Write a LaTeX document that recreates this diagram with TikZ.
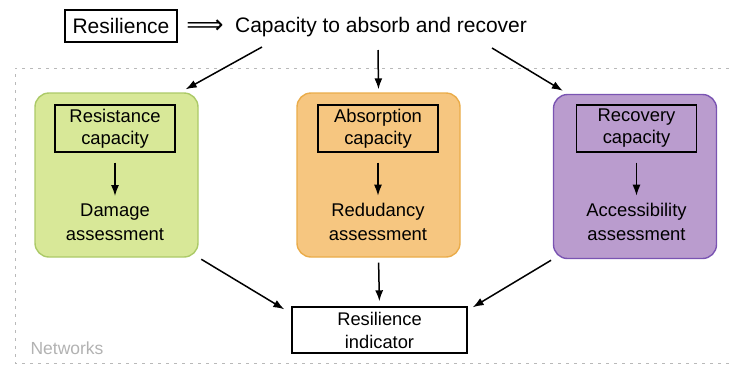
\documentclass[tikz,border=0pt]{standalone}
\usepackage{amsmath}
\usepackage{fontspec}
\setmainfont{Liberation Sans}
\newfontfamily\arrowfont{DejaVu Sans}
\usepackage{xcolor}
\usepackage{tikz}
\usetikzlibrary{arrows.meta}

\definecolor{resgreen}{RGB}{216,232,152}
\definecolor{resgreenline}{RGB}{172,202,104}
\definecolor{absorange}{RGB}{246,198,128}
\definecolor{absorangeline}{RGB}{234,172,74}
\definecolor{recpurple}{RGB}{186,156,206}
\definecolor{recpurpleline}{RGB}{122,84,178}

\tikzset{
    panel/.style={draw, line width=1.4pt, rounded corners=14pt,
        minimum width=163pt, minimum height=164pt},
    capbox/.style={draw=black, line width=1.4pt, align=center, inner sep=0pt,
        minimum width=120pt, minimum height=47pt,
        font=\fontsize{18.4}{22}\selectfont},
    lowtext/.style={align=center, font=\fontsize{18.4}{24}\selectfont},
    arr/.style={-{Latex[length=11pt,width=8pt]}, line width=1.5pt}
}

\begin{document}
\begin{tikzpicture}[x=1pt, y=-1pt]
        \useasboundingbox (0, 0) rectangle (729, 365);

        % network frame
        \draw[gray!55, line width=1pt, dash pattern=on 3pt off 5pt]
            (729, 68) -- (15, 68) -- (15, 363) -- (729, 363);
        \node[gray!60, anchor=west, font=\fontsize{17.5}{20}\selectfont] (net) at (27, 348) {Networks};

        % headline
        \node[draw, line width=1.4pt, minimum width=112pt, minimum height=32pt,
            inner sep=0pt, font=\fontsize{21}{24}\selectfont] (res) at (121, 26) {Resilience};
        \node[inner sep=0pt, font=\arrowfont\fontsize{26}{28}\selectfont] (impl) at (205, 27) {⟹};
        \node[font=\fontsize{21}{24}\selectfont] (cap) at (381, 27) {Capacity to absorb and recover};

        % three panels
        \node[panel, fill=resgreen, draw=resgreenline] (green) at (116.5, 175) {};
        \node[panel, fill=absorange, draw=absorangeline] (orange) at (378.5, 175) {};
        \node[panel, fill=recpurple, draw=recpurpleline] (purple) at (635, 176.5) {};

        \node[capbox] (resist) at (115, 128.5) {Resistance\\capacity};
        \node[capbox] (absorb) at (378, 128.5) {Absorption\\capacity};
        \node[capbox] (recov) at (636.5, 128.5) {Recovery\\capacity};

        \node[lowtext] (damage) at (115, 222) {Damage\\assessment};
        \node[lowtext] (redund) at (378, 222) {Redudancy\\assessment};
        \node[lowtext] (access) at (636.5, 222) {Accessibility\\assessment};

        \draw[arr, shorten <=10pt, shorten >=4pt] (resist) -- (damage);
        \draw[arr, shorten <=10pt, shorten >=4pt] (absorb) -- (redund);
        \draw[arr, shorten <=10pt, shorten >=4pt] (recov) -- (access);

        % indicator
        \node[draw, line width=1.4pt, minimum width=175pt, minimum height=46pt,
            align=center, inner sep=0pt, font=\fontsize{18.3}{23}\selectfont] (ind) at (379.5, 330)
            {Resilience\\indicator};

        % arrows from the headline
        \coordinate (c1) at (262, 47);
        \coordinate (c2) at (378, 50);
        \coordinate (c3) at (492, 48);
        \draw[arr] (c1) -- ([xshift=-13pt, yshift=3pt]green.north east);
        \draw[arr] (c2) -- ([yshift=3pt]orange.north);
        \draw[arr] (c3) -- ([xshift=10pt, yshift=3pt]purple.north west);

        % arrows to the indicator
        \draw[arr, shorten <=3pt] (green.south east) -- ([xshift=-7pt, yshift=-3pt]ind.north west);
        \draw[arr, shorten <=5pt, shorten >=5pt] (orange.south) -- (ind.north);
        \draw[arr, shorten <=2pt] (purple.south west) -- ([xshift=5pt, yshift=-1pt]ind.north east);
    \end{tikzpicture}
\end{document}
